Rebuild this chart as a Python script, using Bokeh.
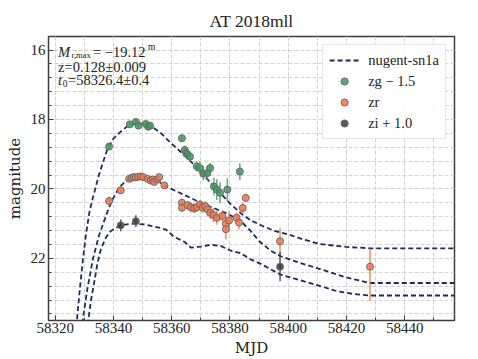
import numpy as np
from bokeh.plotting import figure
from bokeh.models import (Range1d, SingleIntervalTicker, ColumnDataSource, Label,
                          Legend, LegendItem)
from bokeh.embed import file_html
from bokeh.resources import INLINE

TITLE = "AT 2018mll"
G_OFFSET = -1.5
R_OFFSET = 0.0
I_OFFSET = 1.0

# ---- nugent-sn1a model light curves (raw band magnitudes) ----
model_g_mjd = [58326.5, 58327.5, 58328.5, 58329.5, 58330.5, 58331.7, 58332.8, 58335.0, 58338.0,
               58340.0, 58342.5, 58345.0, 58348.3, 58351.0, 58353.0, 58356.0, 58360.0, 58364.0,
               58368.0, 58372.0, 58376.0, 58380.0, 58384.0, 58387.0, 58391.0, 58395.0, 58400.0,
               58405.0, 58411.0, 58420.0, 58428.0, 58458.0]
model_g_mag = [26.40, 25.25, 24.35, 23.55, 22.85, 22.19, 21.80, 21.10, 20.33,
               20.05, 19.85, 19.68, 19.61, 19.64, 19.70, 19.87, 20.20, 20.50,
               20.83, 21.20, 21.55, 21.92, 22.22, 22.40, 22.56, 22.70, 22.81,
               22.95, 23.09, 23.17, 23.21, 23.21]

model_r_mjd = [58328.5, 58329.5, 58331.0, 58333.0, 58335.0, 58338.0, 58339.7, 58342.0, 58344.8,
               58347.0, 58350.0, 58353.0, 58356.3, 58358.6, 58364.0, 58370.0, 58377.0, 58380.0,
               58384.0, 58387.0, 58390.0, 58394.0, 58397.4, 58404.0, 58411.0, 58420.0, 58428.0,
               58458.0]
model_r_mag = [24.80, 23.75, 22.90, 22.00, 21.35, 20.64, 20.30, 19.95, 19.73,
               19.66, 19.64, 19.70, 19.83, 19.95, 20.16, 20.40, 20.64, 20.75,
               20.95, 21.20, 21.50, 21.78, 21.94, 22.13, 22.31, 22.55, 22.71,
               22.71]

model_i_mjd = [58330.5, 58331.4, 58332.3, 58333.4, 58334.5, 58335.7, 58337.4, 58339.1, 58342.5,
               58346.0, 58350.5, 58356.3, 58358.0, 58360.8, 58364.3, 58366.6, 58370.0, 58373.4,
               58376.8, 58380.3, 58383.7, 58387.1, 58390.6, 58397.4, 58402.0, 58406.6, 58411.0,
               58416.9, 58422.0, 58428.1, 58458.0]
model_i_mag = [23.60, 22.75, 22.20, 21.69, 21.15, 20.73, 20.40, 20.21, 20.05,
               20.00, 20.02, 20.13, 20.17, 20.38, 20.52, 20.69, 20.66, 20.61,
               20.64, 20.78, 20.85, 21.03, 21.16, 21.47, 21.58, 21.69, 21.80,
               21.95, 22.02, 22.07, 22.07]

# ---- ZTF photometry (raw magnitudes) ----
g_mjd = [58338.5, 58345.6, 58347.7, 58348.6, 58351.1, 58351.9, 58352.6, 58363.5, 58364.5,
         58365.0, 58365.4, 58366.3, 58368.6, 58369.7, 58370.9, 58372.3, 58373.2, 58374.5,
         58375.5, 58376.6, 58379.1, 58383.4]
g_mag = [20.28, 19.64, 19.57, 19.68, 19.63, 19.71, 19.68, 20.04, 20.38,
         20.48, 20.50, 20.57, 20.85, 20.90, 21.06, 21.04, 20.90, 21.43,
         21.52, 21.61, 21.52, 21.00]
g_err = [0.10, 0.07, 0.07, 0.07, 0.07, 0.08, 0.08, 0.10, 0.12,
         0.14, 0.15, 0.14, 0.15, 0.18, 0.20, 0.20, 0.15, 0.25,
         0.30, 0.30, 0.33, 0.24]

r_mjd = [58338.5, 58342.5, 58345.4, 58346.2, 58347.0, 58347.7, 58348.5, 58349.4, 58350.2,
         58351.7, 58352.8, 58353.5, 58354.0, 58355.1, 58355.7, 58357.5, 58363.5, 58363.5,
         58365.4, 58366.6, 58367.7, 58368.6, 58369.7, 58370.6, 58371.5, 58372.3, 58373.2,
         58374.3, 58375.5, 58377.4, 58378.6, 58378.6, 58379.7, 58382.3, 58383.1, 58384.4,
         58385.4, 58397.2, 58428.1]
r_mag = [20.35, 20.04, 19.71, 19.68, 19.66, 19.67, 19.65, 19.64, 19.66,
         19.71, 19.76, 19.73, 19.80, 19.73, 19.66, 19.90, 20.40, 20.54,
         20.47, 20.53, 20.56, 20.53, 20.45, 20.54, 20.50, 20.59, 20.69,
         20.75, 20.83, 20.78, 21.00, 21.16, 20.91, 20.83, 20.97, 20.55,
         20.26, 21.51, 22.24]
r_err_bright = [0.13, 0.10, 0.06, 0.06, 0.06, 0.06, 0.06, 0.06, 0.06,
                0.06, 0.07, 0.07, 0.07, 0.07, 0.07, 0.08, 0.12, 0.12,
                0.12, 0.15, 0.15, 0.12, 0.12, 0.15, 0.15, 0.15, 0.18,
                0.20, 0.20, 0.15, 0.20, 0.30, 0.25, 0.15, 0.20, 0.15,
                0.12, 0.38, 0.52]
r_err_faint = [0.13, 0.10, 0.06, 0.06, 0.06, 0.06, 0.06, 0.06, 0.06,
               0.06, 0.07, 0.07, 0.07, 0.07, 0.07, 0.08, 0.12, 0.12,
               0.12, 0.15, 0.15, 0.12, 0.12, 0.15, 0.15, 0.15, 0.18,
               0.20, 0.20, 0.15, 0.20, 0.30, 0.25, 0.15, 0.20, 0.15,
               0.12, 0.38, 0.98]

i_mjd = [58342.5, 58347.7, 58397.2]
i_mag = [20.05, 19.93, 21.24]
i_err = [0.17, 0.17, 0.42]

# ---- fit summary ----
M_MAX = "−19.12"
Z_TEXT = "z=0.128±0.009"
T0_TEXT = "=58326.4±0.4"

# ---- styling ----
SERIF = "Liberation Serif"
MODEL_COLOR = "#1c2b5a"
G_COLOR = "#3f9a60"
R_COLOR = "#f4764e"
I_COLOR = "#3a3a3a"
EDGE = "#6a6a6a"

X0, X1 = 58317.7, 58457.1
Y_BOTTOM, Y_TOP = 23.79, 15.61

p = figure(width=478, height=359, output_backend="svg", toolbar_location=None,
           x_range=Range1d(X0, X1), y_range=Range1d(Y_BOTTOM, Y_TOP),
           min_border_left=48, min_border_right=24, min_border_top=36, min_border_bottom=37,
           title=TITLE)
p.background_fill_color = "white"
p.border_fill_color = "white"
p.outline_line_color = "#3c3c3c"
p.outline_line_width = 1.5

p.title.align = "center"
p.title.text_font = SERIF
p.title.text_font_size = "17.5px"
p.title.text_font_style = "normal"
p.title.text_color = "#222222"
p.title.standoff = 12

p.xaxis.ticker = SingleIntervalTicker(interval=20, num_minor_ticks=2)
p.yaxis.ticker = SingleIntervalTicker(interval=2, num_minor_ticks=5)
for ax in (p.xaxis[0], p.yaxis[0]):
    ax.axis_line_color = None
    ax.major_tick_in = 5
    ax.major_tick_out = 0
    ax.minor_tick_in = 3
    ax.minor_tick_out = 0
    ax.major_tick_line_color = "#3c3c3c"
    ax.minor_tick_line_color = "#3c3c3c"
    ax.major_label_text_font = SERIF
    ax.major_label_text_font_size = "15px"
    ax.major_label_text_color = "#222222"
    ax.axis_label_text_font = "DejaVu Serif"
    ax.axis_label_text_font_size = "15px"
    ax.axis_label_text_font_style = "normal"
    ax.axis_label_text_color = "#222222"
p.xaxis.major_label_standoff = 2
p.yaxis.major_label_standoff = 3
p.xaxis.axis_label = "MJD"
p.xaxis.axis_label_standoff = 3
p.yaxis.axis_label = "magnitude"
p.yaxis.axis_label_standoff = 4

for gr in (p.xgrid[0], p.ygrid[0]):
    gr.grid_line_color = "#d2d2d2"
    gr.grid_line_dash = "4 2"
    gr.grid_line_width = 1
    gr.minor_grid_line_color = "#d2d2d2"
    gr.minor_grid_line_dash = "4 2"
    gr.minor_grid_line_width = 1

# models
lg = p.line(model_g_mjd, [m + G_OFFSET for m in model_g_mag], line_color=MODEL_COLOR,
            line_width=1.8, line_dash="5 3")
p.line(model_r_mjd, [m + R_OFFSET for m in model_r_mag], line_color=MODEL_COLOR,
       line_width=1.8, line_dash="5 3")
p.line(model_i_mjd, [m + I_OFFSET for m in model_i_mag], line_color=MODEL_COLOR,
       line_width=1.8, line_dash="5 3")


def band(mjd, mag, err_b, err_f, off, color):
    y = np.array(mag) + off
    src = ColumnDataSource(dict(x=mjd, y=y, lo=y - np.array(err_b), hi=y + np.array(err_f)))
    p.segment(x0="x", y0="lo", x1="x", y1="hi", source=src, line_color=color,
              line_width=1.5, line_alpha=0.85)
    return p.scatter(x="x", y="y", source=src, size=7, marker="circle", fill_color=color,
                     fill_alpha=0.85, line_color=EDGE, line_width=1)


sg = band(g_mjd, g_mag, g_err, g_err, G_OFFSET, G_COLOR)
sr = band(r_mjd, r_mag, r_err_bright, r_err_faint, R_OFFSET, R_COLOR)
si = band(i_mjd, i_mag, i_err, i_err, I_OFFSET, I_COLOR)

legend = Legend(items=[
    LegendItem(label="nugent-sn1a", renderers=[lg]),
    LegendItem(label="zg − 1.5", renderers=[sg]),
    LegendItem(label="zr", renderers=[sr]),
    LegendItem(label="zi + 1.0", renderers=[si]),
], location="top_right")
legend.margin = 8
legend.padding = 6
legend.spacing = 3
legend.glyph_width = 30
legend.glyph_height = 18
legend.label_height = 18
legend.label_standoff = 9
legend.label_text_font = SERIF
legend.label_text_font_size = "14.5px"
legend.label_text_color = "#222222"
legend.border_line_color = "#cccccc"
legend.border_line_width = 1
legend.background_fill_alpha = 0.9
p.add_layout(legend)

# annotation positions (pixel offsets converted to data units)
PX_PER_DAY = 2.915
PX_PER_MAG = 35.0


def ax_x(px):  # px from left frame edge
    return X0 + px / PX_PER_DAY


def ax_y(px):  # px from top frame edge
    return Y_TOP + px / PX_PER_MAG


def lab(x, y, text, size="14.5px", style="normal", align="left"):
    p.add_layout(Label(x=x, y=y, text=text, text_font=SERIF, text_font_size=size,
                       text_font_style=style, text_color="#222222", text_align=align,
                       text_baseline="alphabetic"))


lab(ax_x(9.6), ax_y(16.0), "M", style="italic")
lab(ax_x(23.0), ax_y(18.5), "r,max", size="8.5px", style="normal")
lab(ax_x(44.5), ax_y(16.0), "= " + M_MAX)
lab(ax_x(99.5), ax_y(11.0), "m", size="9.5px")
lab(ax_x(9.6), ax_y(31.0), Z_TEXT)
lab(ax_x(9.6), ax_y(44.3), "t", style="italic")
lab(ax_x(14.2), ax_y(47.0), "0", size="9.5px")
lab(ax_x(19.5), ax_y(44.3), T0_TEXT)

open("out.html", "w").write(file_html(p, INLINE))
